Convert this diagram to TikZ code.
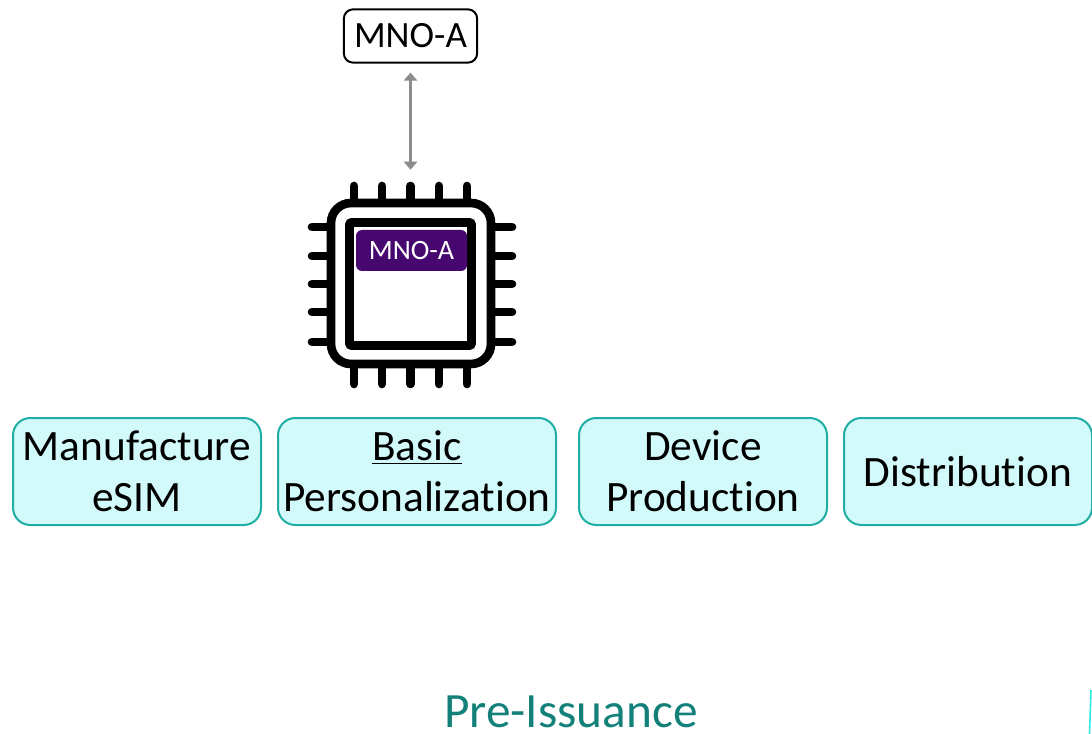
\documentclass[tikz,border=0pt]{standalone}
\usepackage{fontspec}
\setmainfont{Carlito}[Ligatures=CommonOff]
\usetikzlibrary{arrows.meta}

\definecolor{stagefill}{HTML}{D3FAFA}
\definecolor{stageline}{HTML}{20ADA3}
\definecolor{profilefill}{HTML}{46076F}
\definecolor{phasetext}{HTML}{13807A}
\definecolor{sliver}{HTML}{30E8E0}

\tikzset{
    stagebox/.style={draw=stageline, fill=stagefill, line width=1.5pt, rounded corners=13pt, inner sep=0pt, align=center, font=\fontsize{32.5}{38.25}\selectfont},
    chipline/.style={draw=black, line width=6.5pt, inner sep=0pt},
    chippin/.style={black, line width=6.5pt, line cap=round}
}

\begin{document}
\begin{tikzpicture}[x=0.75pt, y=-0.75pt]
    \useasboundingbox (0,0) rectangle (1092,734);

    \node[draw=black, line width=1.5pt, rounded corners=7pt, inner sep=0pt, minimum width=100pt, minimum height=40pt, font=\fontsize{27.8}{30}\selectfont] (mnoa) at (410.5,36) {MNO-A};

    % pins first, the body goes over them
    \foreach \x in {354,382,410.5,439,467} {
        \draw[chippin] (\x,186) -- (\x,203);
        \draw[chippin] (\x,364) -- (\x,384);
    }
    \foreach \y in {227,256,284,312,342} {
        \draw[chippin] (312,\y) -- (331,\y);
        \draw[chippin] (491,\y) -- (512,\y);
    }
    \node[chipline, fill=white, rounded corners=15pt, minimum width=120pt, minimum height=120.75pt] (chip) at (411,283.5) {};
    \node[chipline, fill=white, rounded corners=1.5pt, minimum width=91.5pt, minimum height=92.25pt] (die) at (410.5,284) {};
    \node[fill=profilefill, text=white, rounded corners=4.5pt, inner sep=0pt, minimum width=83.25pt, minimum height=30.75pt, font=\fontsize{21}{24}\selectfont] (profile) at (411.5,250.5) {MNO-A};

    \draw[gray!90, line width=1.7pt, {Triangle[length=6pt,width=10pt]}-{Triangle[length=6pt,width=10pt]}, shorten <=6.75pt, shorten >=21.75pt] (mnoa.south) -- (chip.north -| mnoa.south);

    \node[stagebox, minimum width=186pt, minimum height=80.25pt] (manufacture) at (137,471.5) {Manufacture\\eSIM};
    \node[stagebox, minimum width=208.5pt, minimum height=80.25pt] (basic) at (417,471.5) {\underline{Basic}\\Personalization};
    \node[stagebox, minimum width=186pt, minimum height=80.25pt] (device) at (703,471.5) {Device\\Production};
    \node[stagebox, minimum width=186pt, minimum height=80.25pt] (distribution) at (968,471.5) {Distribution};

    \node[text=phasetext, inner sep=0pt, font=\fontsize{37}{40}\selectfont] (phase) at (571,712) {Pre-Issuance};

    \draw[sliver, line width=1.2pt] (1091,690) -- (1089.5,734);
\end{tikzpicture}
\end{document}
